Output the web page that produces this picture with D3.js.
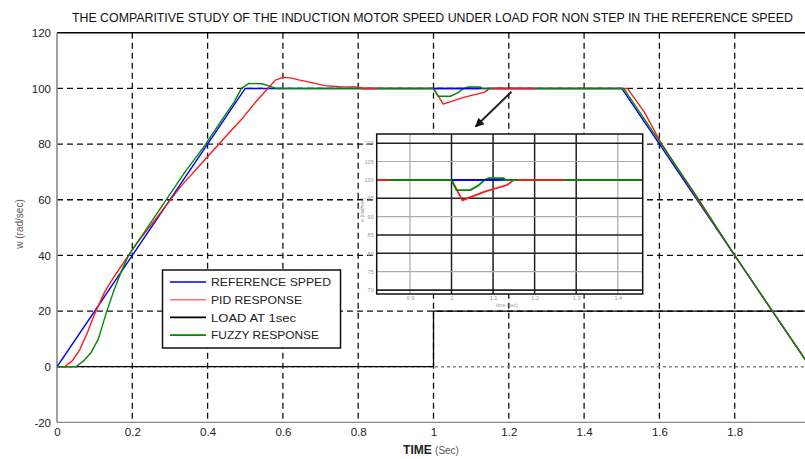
<!DOCTYPE html>
<html><head><meta charset="utf-8">
<script src="https://cdnjs.cloudflare.com/ajax/libs/d3/7.8.5/d3.min.js"></script>
<style>
html,body{margin:0;padding:0;background:#fff;}
svg{display:block;}
text{font-family:"Liberation Sans",Arial,sans-serif;}
</style></head>
<body>
<svg id="c" width="805" height="459"></svg>
<script>
// ---------- data ----------
const titleText = "THE COMPARITIVE STUDY OF THE INDUCTION MOTOR SPEED UNDER LOAD FOR NON STEP IN THE REFERENCE SPEED";
const xTicks = [0, 0.2, 0.4, 0.6, 0.8, 1, 1.2, 1.4, 1.6, 1.8];
const yTicks = [-20, 0, 20, 40, 60, 80, 100, 120];
const gridY = [20, 40, 60, 80, 100];

// reference speed [t, w]
const refT = [0, 0.5, 1.5, 2.0];
const refW = [0, 100, 100, 0];
// PID response
const pidT = [0, 0.02, 0.04, 0.06, 0.08, 0.1, 0.127, 0.15, 0.18, 0.21, 0.25, 0.29, 0.33, 0.37, 0.41, 0.45, 0.494, 0.53, 0.56, 0.58, 0.6, 0.62, 0.645, 0.68, 0.71, 0.75, 0.8, 0.81, 1.0, 1.026, 1.08, 1.134, 1.15, 1.515, 1.56, 1.604, 1.7, 1.8, 1.9, 2.0];
const pidW = [0, 0, 2, 6, 12, 19, 27, 32, 38, 44, 51, 58, 65, 71, 77, 83, 89.5, 95.5, 100, 103, 104, 103.8, 103, 102, 101, 100.6, 100.5, 100, 100, 94.4, 96.8, 98.6, 100, 100, 91.5, 80.5, 60.5, 40, 20, 0];
// fuzzy response
const fuzT = [0, 0.05, 0.07, 0.09, 0.11, 0.13, 0.15, 0.17, 0.19, 0.21, 0.24, 0.29, 0.34, 0.39, 0.437, 0.47, 0.49, 0.51, 0.545, 0.56, 0.583, 1.0, 1.012, 1.045, 1.065, 1.08, 1.09, 1.125, 1.13, 1.505, 1.6, 1.7, 1.8, 1.9, 2.0];
const fuzW = [0, 0, 2, 5, 10, 19, 27, 34, 40, 44, 50, 60, 70, 79, 88.5, 95, 100, 101.8, 101.7, 101, 100, 100, 97.2, 97.2, 98.5, 100, 100.5, 100.5, 100, 100, 81, 61, 40, 20, 0];
// load torque
const loadT = [0, 1, 1, 2.05];
const loadW = [0, 0, 20, 20];

const legendLabels = ["REFERENCE SPPED", "PID RESPONSE", "LOAD AT 1sec", "FUZZY RESPONSE"];

// inset
const insetXTicks = [0.9, 1, 1.1, 1.2, 1.3, 1.4];
const insetXDark = [false, true, true, true, true, false];
const insetYTicks = [70, 75, 80, 85, 90, 95, 100, 105, 110];
const insetYDark = [true, false, true, true, false, true, false, false, true];
// segments drawn again on top (series, t from, t to)
const overlays = [["ref", 1.0, 1.12], ["pid", 1.16, 1.27], ["pid", 0.8, 0.85]];
// arrow annotation [t, w] tail -> head
const arrowPts = [[1.207, 98.8], [1.112, 86.3]];

// ---------- setup ----------
const svg = d3.select("#c");
const colors = {ref: "#0000ff", pid: "#ff1a1a", load: "#000000", fuz: "#008a00"};
const series = {
  ref: refT.map((t, i) => [t, refW[i]]),
  pid: pidT.map((t, i) => [t, pidW[i]]),
  fuz: fuzT.map((t, i) => [t, fuzW[i]]),
  load: loadT.map((t, i) => [t, loadW[i]])
};
function slice(pts, t0, t1) {
  const interp = t => {
    for (let i = 1; i < pts.length; i++) {
      if (t <= pts[i][0]) {
        const a = pts[i - 1], b = pts[i];
        const f = b[0] === a[0] ? 0 : (t - a[0]) / (b[0] - a[0]);
        return a[1] + f * (b[1] - a[1]);
      }
    }
    return pts[pts.length - 1][1];
  };
  const out = [[t0, interp(t0)]];
  pts.forEach(p => { if (p[0] > t0 && p[0] < t1) out.push(p); });
  out.push([t1, interp(t1)]);
  return out;
}

const x = d3.scaleLinear().domain([0, 2]).range([57, 810]);
const y = d3.scaleLinear().domain([-20, 120]).range([422.4, 32.8]);

// title
svg.append("text").attr("x", 72).attr("y", 22).attr("font-size", 12)
  .attr("textLength", 721).attr("lengthAdjust", "spacingAndGlyphs")
  .attr("fill", "#111").text(titleText);

// ---------- grid ----------
const g = svg.append("g");
g.selectAll(".vg").data(xTicks.filter(d => d > 0)).enter().append("line")
  .attr("x1", d => x(d)).attr("x2", d => x(d)).attr("y1", y(120)).attr("y2", y(-20))
  .attr("stroke", "#111").attr("stroke-width", 1.3).attr("stroke-dasharray", "6,4");
g.selectAll(".hg").data(gridY).enter().append("line")
  .attr("x1", x(0)).attr("x2", 805).attr("y1", d => y(d)).attr("y2", d => y(d))
  .attr("stroke", "#111").attr("stroke-width", 1.3).attr("stroke-dasharray", "6,4");
g.append("line").attr("x1", x(0)).attr("x2", 805).attr("y1", y(0)).attr("y2", y(0))
  .attr("stroke", "#888").attr("stroke-width", 1.3).attr("stroke-dasharray", "3,3");
g.append("line").attr("x1", x(0)).attr("x2", 805).attr("y1", y(120)).attr("y2", y(120))
  .attr("stroke", "#000").attr("stroke-width", 1.6);
g.append("line").attr("x1", x(0)).attr("x2", 805).attr("y1", y(-20)).attr("y2", y(-20))
  .attr("stroke", "#888").attr("stroke-width", 1.4);
g.append("line").attr("x1", x(0)).attr("x2", x(0)).attr("y1", y(120)).attr("y2", y(-20))
  .attr("stroke", "#888").attr("stroke-width", 1.6);

// axes labels
const ax = svg.append("g").attr("transform", `translate(0,${y(-20)})`)
  .call(d3.axisBottom(x).tickValues(xTicks).tickSize(0).tickPadding(5).tickFormat(d => String(d)));
ax.select(".domain").remove();
ax.selectAll("text").attr("font-size", 11.5).attr("fill", "#222").style("font-family", '"Liberation Sans",Arial,sans-serif');
const ay = svg.append("g").attr("transform", `translate(${x(0)},0)`)
  .call(d3.axisLeft(y).tickValues(yTicks).tickSize(0).tickPadding(6).tickFormat(d => String(d)));
ay.select(".domain").remove();
ay.selectAll("text").attr("font-size", 11.5).attr("fill", "#222").style("font-family", '"Liberation Sans",Arial,sans-serif');

const xl = svg.append("text").attr("x", 431).attr("y", 454).attr("text-anchor", "middle").attr("font-size", 12);
xl.append("tspan").attr("font-weight", "bold").attr("fill", "#222").text("TIME ");
xl.append("tspan").attr("fill", "#555").attr("font-size", 10).text("(Sec)");
svg.append("text").attr("transform", "translate(23,224) rotate(-90)").attr("text-anchor", "middle")
  .attr("font-size", 10).attr("fill", "#555").text("w  (rad/sec)");

// ---------- lines ----------
function drawAll(parent, xs, ys, width) {
  const line = d3.line().x(d => xs(d[0])).y(d => ys(d[1]));
  parent.append("path").datum(series.load).attr("d", line).attr("fill", "none")
    .attr("stroke", colors.load).attr("stroke-width", width * 0.9);
  ["ref", "pid", "fuz"].forEach(k => {
    parent.append("path").datum(series[k]).attr("d", line).attr("fill", "none")
      .attr("stroke", colors[k]).attr("stroke-width", width).attr("stroke-linejoin", "round");
  });
  overlays.forEach(o => {
    parent.append("path").datum(slice(series[o[0]], o[1], o[2])).attr("d", line).attr("fill", "none")
      .attr("stroke", colors[o[0]]).attr("stroke-width", width);
  });
}
svg.append("clipPath").attr("id", "mainclip").append("rect")
  .attr("x", x(0)).attr("y", y(120)).attr("width", 805 - x(0)).attr("height", y(-20) - y(120));
drawAll(svg.append("g").attr("clip-path", "url(#mainclip)"), x, y, 1.4);

// ---------- legend ----------
const lg = svg.append("g");
lg.append("rect").attr("x", 162.5).attr("y", 270).attr("width", 178).attr("height", 78)
  .attr("fill", "#fff").attr("stroke", "#111").attr("stroke-width", 1.5);
const legKeys = ["ref", "pid", "load", "fuz"];
const legendWidths = [120, 91, 85, 108];
legKeys.forEach((k, i) => {
  const yy = 282 + i * 17.7;
  lg.append("line").attr("x1", 170).attr("x2", 206).attr("y1", yy).attr("y2", yy)
    .attr("stroke", k === "pid" ? "#ff7070" : colors[k]).attr("stroke-width", 1.6);
  lg.append("text").attr("x", 211).attr("y", yy + 4.3).attr("font-size", 11.5)
    .attr("textLength", legendWidths[i]).attr("lengthAdjust", "spacingAndGlyphs")
    .attr("fill", "#222").text(legendLabels[i]);
});

// ---------- inset ----------
const ix = d3.scaleLinear().domain([0.82, 1.46]).range([376.7, 642.7]);
const iy = d3.scaleLinear().domain([68.9, 112.5]).range([294, 134]);
const ig = svg.append("g");
ig.append("rect").attr("x", ix(0.82)).attr("y", iy(112.5)).attr("width", ix(1.46) - ix(0.82))
  .attr("height", iy(68.9) - iy(112.5)).attr("fill", "#fff");
ig.selectAll(".ivg").data(insetXTicks).enter().append("line")
  .attr("x1", d => ix(d)).attr("x2", d => ix(d)).attr("y1", iy(112.5)).attr("y2", iy(68.9))
  .attr("stroke", (d, i) => insetXDark[i] ? "#222" : "#aaa").attr("stroke-width", (d, i) => insetXDark[i] ? 1.5 : 1.2);
ig.selectAll(".ihg").data(insetYTicks).enter().append("line")
  .attr("x1", ix(0.82)).attr("x2", ix(1.46)).attr("y1", d => iy(d)).attr("y2", d => iy(d))
  .attr("stroke", (d, i) => insetYDark[i] ? "#222" : "#aaa").attr("stroke-width", (d, i) => insetYDark[i] ? 1.5 : 1.2);
svg.append("clipPath").attr("id", "insetclip").append("rect")
  .attr("x", ix(0.82)).attr("y", iy(112.5)).attr("width", ix(1.46) - ix(0.82)).attr("height", iy(68.9) - iy(112.5));
drawAll(ig.append("g").attr("clip-path", "url(#insetclip)"), ix, iy, 1.8);
ig.append("rect").attr("x", ix(0.82)).attr("y", iy(112.5)).attr("width", ix(1.46) - ix(0.82))
  .attr("height", iy(68.9) - iy(112.5)).attr("fill", "none").attr("stroke", "#111").attr("stroke-width", 1.5);
ig.append("line").attr("x1", ix(0.82)).attr("x2", ix(1.46)).attr("y1", iy(68.9) - 3.5).attr("y2", iy(68.9) - 3.5)
  .attr("stroke", "#222").attr("stroke-width", 1.2);
const iax = ig.append("g").attr("transform", `translate(0,${iy(68.9)})`)
  .call(d3.axisBottom(ix).tickValues(insetXTicks).tickSize(0).tickPadding(2).tickFormat(d => String(d)));
iax.select(".domain").remove();
iax.selectAll("text").attr("font-size", 5.5).attr("fill", "#999");
const iay = ig.append("g").attr("transform", `translate(${ix(0.82)},0)`)
  .call(d3.axisLeft(iy).tickValues(insetYTicks).tickSize(0).tickPadding(3).tickFormat(d => String(d)));
iay.select(".domain").remove();
iay.selectAll("text").attr("font-size", 5.5).attr("fill", "#999");
ig.append("text").attr("x", 507).attr("y", 307).attr("text-anchor", "middle").attr("font-size", 5)
  .attr("fill", "#999").text("time (sec)");
ig.append("text").attr("transform", "translate(364,210) rotate(-90)").attr("text-anchor", "middle")
  .attr("font-size", 5).attr("fill", "#999").text("w (rad/sec)");

// ---------- arrow ----------
const defs = svg.append("defs");
defs.append("marker").attr("id", "ah").attr("viewBox", "0 0 10 10").attr("refX", 9).attr("refY", 5)
  .attr("markerWidth", 11).attr("markerHeight", 9).attr("markerUnits", "userSpaceOnUse").attr("orient", "auto")
  .append("path").attr("d", "M0,0 L10,5 L0,10 Z").attr("fill", "#111");
svg.append("line").attr("x1", x(arrowPts[0][0])).attr("y1", y(arrowPts[0][1]))
  .attr("x2", x(arrowPts[1][0])).attr("y2", y(arrowPts[1][1]))
  .attr("stroke", "#222").attr("stroke-width", 2).attr("marker-end", "url(#ah)");
</script>
</body></html>
